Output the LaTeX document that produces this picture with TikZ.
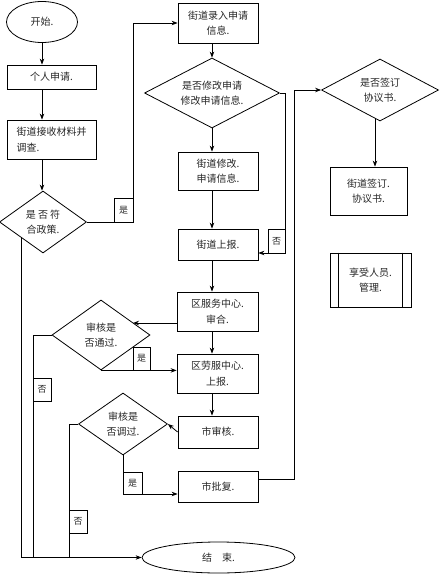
\documentclass[tikz,border=0pt]{standalone}
\usepackage{fontspec}
\setmainfont{Noto Sans CJK SC}
\usetikzlibrary{shapes.geometric,arrows.meta,calc}
\begin{document}
\begin{tikzpicture}[x=1pt,y=-1pt,
  every node/.style={font=\fontsize{10}{15.5}\selectfont, text=black!85, inner sep=0pt},
  procbox/.style={draw, line width=0.8pt, rectangle, align=center},
  decision/.style={draw, line width=0.8pt, diamond, aspect=1, align=center},
  term/.style={draw, line width=0.8pt, ellipse},
  lbl/.style={draw, line width=0.6pt, rectangle, font=\fontsize{9}{10}\selectfont},
  line/.style={line width=0.8pt},
  arr/.style={line width=0.8pt, -{Stealth[length=6pt,width=4.5pt]}}]
\useasboundingbox (0,0) rectangle (442,578);
% nodes
\node[term, minimum width=71pt, minimum height=41pt] (start) at (42,22) {开始.};
\node[procbox, minimum width=89pt, minimum height=24pt] (n1) at (51.5,77) {个人申请.};
\node[procbox, minimum width=89pt, minimum height=39pt, align=left] (n2) at (51.5,139.5) {街道接收材料并\\调查.};
\node[decision, minimum width=87pt, minimum height=62pt] (d1) at (43,222) {};
\node[align=center] at (43,222) {是 否 符\\合政策.};
\node[procbox, minimum width=80pt, minimum height=40pt] (b1) at (218,23) {街道录入申请\\信息.};
\node[decision, minimum width=135pt, minimum height=70pt] (d2) at (212,93) {};
\node[align=center] at (212,93) {是否修改申请\\修改申请信息.};
\node[procbox, minimum width=80pt, minimum height=38pt] (b2) at (218,171) {街道修改.\\申请信息.};
\node[procbox, minimum width=80pt, minimum height=31pt] (b3) at (218,244.5) {街道上报.};
\node[decision, minimum width=117pt, minimum height=62pt] (d3) at (380,90) {};
\node[align=center] at (380,90) {是否签订\\协议书.};
\node[procbox, minimum width=77pt, minimum height=48pt] (b4) at (368.5,191) {街道签订.\\协议书.};
\node[procbox, minimum width=81pt, minimum height=54pt] (b5) at (370.5,280) {享受人员.\\管理.};
\draw[line width=0.8pt] ($(b5.north west)+(9,0)$) -- ($(b5.south west)+(9,0)$);
\draw[line width=0.8pt] ($(b5.north east)+(-9,0)$) -- ($(b5.south east)+(-9,0)$);
\node[procbox, minimum width=81pt, minimum height=39pt] (b6) at (217.5,311.5) {区服务中心.\\审合.};
\node[decision, minimum width=98pt, minimum height=70pt] (d4) at (101,335) {};
\node[align=center] at (101,335) {审核是\\否通过.};
\node[procbox, minimum width=81pt, minimum height=39pt] (b7) at (217.5,373.5) {区劳服中心.\\上报.};
\node[procbox, minimum width=80pt, minimum height=32pt] (b8) at (218,432) {市审核.};
\node[decision, minimum width=89pt, minimum height=62pt] (d5) at (123,424) {};
\node[align=center] at (123,424) {审核是\\否调过.};
\node[procbox, minimum width=80pt, minimum height=31pt] (b9) at (218,486.5) {市批复.};
\node[term, minimum width=153pt, minimum height=31pt] (end) at (218.5,557.5) {结\quad 束.};
% labels
\node[lbl, minimum width=19pt, minimum height=24pt] (l1) at (123.5,210) {是};
\node[lbl, minimum width=17pt, minimum height=24pt] (l2) at (276.5,241) {否};
\node[lbl, minimum width=17pt, minimum height=23pt] (l3) at (141.5,358.5) {是};
\node[lbl, minimum width=18pt, minimum height=23pt] (l4) at (42,389.5) {否};
\node[lbl, minimum width=19pt, minimum height=22pt] (l5) at (132.5,483) {是};
\node[lbl, minimum width=18pt, minimum height=23pt] (l6) at (78,521.5) {否};
% coordinates
\coordinate (c1) at (133,222);
\coordinate (c2) at (285,93);
\coordinate (c3) at (294,479);
\coordinate (c4) at (294,90);
\coordinate (c5) at (133,323);
\coordinate (c6) at (33,335);
\coordinate (c7) at (33,557.5);
\coordinate (c8) at (69,424);
\coordinate (c9) at (69,557.5);
\coordinate (c10) at (375,119);
% connectors
\draw[arr] (start.south) -- (start.south |- n1.north);
\draw[arr] (start.south |- n1.south) -- (start.south |- n2.north);
\draw[arr] (start.south |- n2.south) -- (start.south |- d1.north);
\draw[arr] (d1.east) -- (c1) |- (b1.west);
\draw[arr] (d2.north |- b1.south) -- (d2.north);
\draw[arr] (d2.south) -- (d2.south |- b2.north);
\draw[arr] (d2.south |- b2.south) -- (d2.south |- b3.north);
\draw[arr] (d2.east) -- (c2) |- ($(b3.east)+(0,8.5)$);
\draw[arr] ($(b9.east)+(0,-7.5)$) -- (c3) -- (c4) -- (d3.west);
\draw[arr] (c10) -- (c10 |- b4.north);
\draw[arr] (d2.south |- b3.south) -- (d2.south |- b6.north);
\draw[arr] (d2.south |- b6.south) -- (d2.south |- b7.north);
\draw[arr] (d2.south |- b7.south) -- (d2.south |- b8.north);
\draw[arr] ($(b6.west)+(0,11.5)$) -- (c5);
\draw[arr] (d4.south) -- (d4.south -| b7.west);
\draw[line] (d4.west) -- (c6) -- (c7);
\draw[arr] (d1.south west) |- (end.west);
\draw[arr] (b8.west) -- (d5.east);
\draw[arr] (d5.south) |- ($(b9.west)+(0,7.5)$);
\draw[line] (d5.west) -- (c8) -- (c9);
\end{tikzpicture}
\end{document}
